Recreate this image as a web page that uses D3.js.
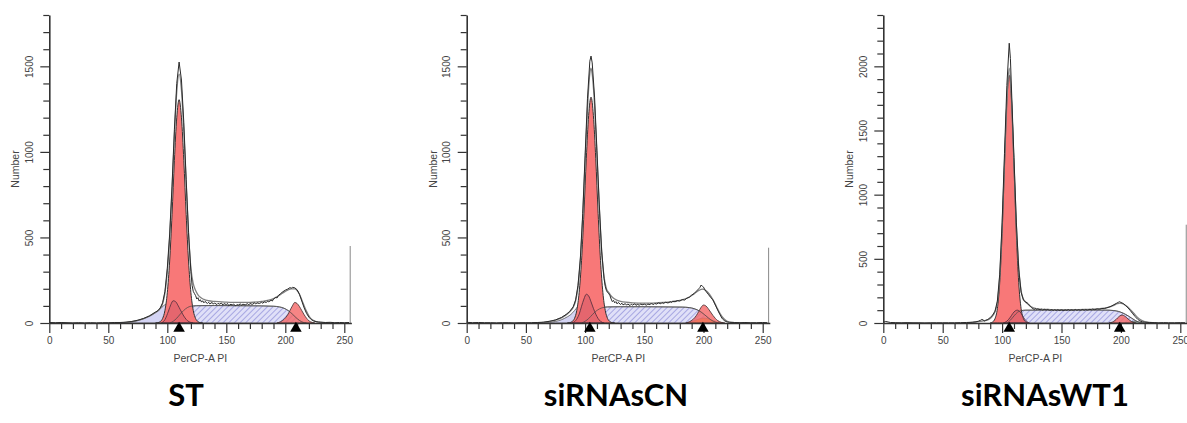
<!DOCTYPE html>
<html>
<head>
<meta charset="utf-8">
<script src="https://cdn.jsdelivr.net/npm/d3@7"></script>
<style>
  body { margin: 0; background: #fff; }
  svg { display: block; font-family: "Liberation Sans", Arial, sans-serif; }
</style>
</head>
<body>
<svg id="chart" width="1187" height="423"></svg>
<script>
// panel labels / scale maxima / marker positions
var titles = ['ST', 'siRNAsCN', 'siRNAsWT1'];
var yMaxes = [1800, 1800, 2400];
var g1Marks = [110, 104, 106];
var g2Marks = [209, 199.5, 199];
var spikeHeights = [450, 440, 766];
var xTickValues = d3.range(0, 251, 10);

// ST
var stRaw = [[0,3],[5,2],[10,3],[15,2],[20,1],[25,2],[30,1],[35,2],[40,1],[45,2],[50,2],[55,3],[60,3],[65,5],[70,9],[75,16],[80,27],[85,42],[88,55],[90,64],[92,72],[94,88],[96,118],[98,185],[100,320],[102,520],[104,800],[106,1130],[108,1400],[110,1525],[112,1420],[114,1170],[116,840],[118,530],[120,300],[121,220],[122,185],[123,172],[124,160],[125,140],[126,148],[127,128],[128,136],[129,122],[130,130],[131,118],[132,126],[134,114],[135,121],[136,112],[138,120],[139,110],[140,117],[142,108],[143,115],[144,110],[146,116],[147,105],[148,113],[150,108],[151,114],[152,102],[154,110],[155,104],[156,111],[158,100],[159,108],[160,104],[162,112],[163,103],[164,110],[166,106],[168,113],[169,105],[170,114],[172,109],[174,117],[175,111],[176,118],[178,114],[180,121],[181,115],[182,124],[184,120],[185,128],[186,124],[188,133],[189,128],[190,140],[192,150],[193,146],[194,160],[196,172],[198,183],[200,192],[202,198],[204,207],[205,203],[206,208],[208,206],[210,194],[212,168],[214,128],[216,88],[218,56],[220,34],[222,20],[224,12],[226,8],[228,6],[230,5],[234,3],[238,4],[242,2],[246,3],[250,2],[254,3]];
var stFit = [[55,1],[60,2],[65,4],[70,8],[75,15],[80,26],[85,41],[90,62],[92,70],[94,85],[96,112],[98,175],[100,300],[102,495],[104,770],[106,1090],[108,1350],[110,1455],[112,1360],[114,1120],[116,810],[118,520],[120,320],[122,230],[124,190],[126,165],[128,150],[131,138],[135,130],[140,126],[150,122],[160,120],[170,121],[180,126],[186,133],[190,142],[194,158],[198,176],[202,192],[205,200],[208,200],[210,190],[212,168],[214,135],[216,100],[218,68],[220,42],[222,24],[225,11],[228,5],[232,2],[240,1]];
var stDebris = [[60,0],[65,2],[70,6],[75,14],[80,25],[85,40],[90,60],[94,82],[97,102],[100,112],[103,104],[106,86],[110,62],[114,44],[118,33],[124,27],[135,24],[150,22],[170,20],[190,17],[200,13],[206,7],[212,0]];
var stBump = [[95,0],[98,20],[101,70],[103,108],[105,130],[107,125],[109,104],[111,78],[113,52],[115,30],[117,14],[120,3],[122,0]];
var stS = [[102,0],[105,10],[108,28],[111,52],[114,74],[117,90],[120,98],[125,101],[140,102],[160,101],[180,100],[190,98],[195,94],[199,86],[203,70],[206,52],[209,32],[212,15],[215,4],[218,0]];
var stG1 = [[90,0],[92,2],[94,8],[96,26],[98,73],[100,177],[102,362],[104,634],[106,949],[108,1199],[110,1305],[112,1199],[114,949],[116,634],[118,362],[120,177],[122,73],[124,26],[126,8],[128,2],[130,0]];
var stG2 = [[193,0],[196,8],[199,22],[202,48],[204,74],[206,100],[208,120],[210,114],[212,96],[214,72],[216,48],[218,28],[220,13],[223,3],[225,0]];

// siRNAsCN
var cnRaw = [[0,4],[5,2],[10,3],[15,2],[20,2],[25,1],[30,2],[35,2],[40,1],[45,2],[50,2],[55,2],[60,3],[65,5],[70,10],[75,18],[80,32],[84,50],[87,68],[90,95],[92,135],[94,220],[96,380],[98,640],[100,980],[102,1310],[104,1530],[105,1560],[106,1520],[108,1320],[110,1010],[112,690],[114,420],[116,260],[117,215],[118,190],[119,178],[120,172],[121,160],[122,140],[123,125],[124,132],[125,118],[126,125],[127,112],[128,120],[130,108],[131,116],[132,106],[134,113],[135,104],[136,111],[138,102],[139,110],[140,105],[142,112],[143,103],[144,109],[146,104],[147,112],[148,106],[150,110],[152,104],[153,112],[154,107],[156,113],[158,108],[159,115],[160,110],[162,117],[164,112],[165,119],[166,114],[168,121],[170,117],[172,124],[173,120],[174,127],[176,124],[178,131],[180,128],[182,137],[184,134],[186,145],[188,150],[190,163],[192,172],[194,186],[196,200],[197,208],[198,222],[199,215],[200,210],[201,196],[202,186],[204,168],[206,150],[208,135],[210,105],[212,75],[214,48],[215,35],[216,24],[218,12],[220,6],[222,4],[226,3],[230,2],[235,3],[240,2],[245,2],[250,3],[254,2]];
var cnFit = [[55,1],[60,2],[65,4],[70,9],[75,17],[80,30],[85,52],[88,72],[90,92],[92,130],[94,210],[96,365],[98,615],[100,940],[102,1250],[104,1460],[105,1490],[106,1455],[108,1270],[110,975],[112,670],[114,420],[116,270],[118,200],[120,178],[122,158],[125,140],[130,126],[140,118],[150,116],[160,118],[170,122],[178,130],[184,140],[188,152],[192,170],[196,190],[199,198],[202,190],[205,168],[208,135],[211,95],[214,55],[217,26],[220,10],[224,3],[230,1]];
var cnDebris = [[62,0],[66,2],[70,4],[75,9],[80,19],[85,36],[88,50],[91,72],[94,98],[97,120],[100,126],[103,110],[106,86],[109,64],[112,47],[116,35],[122,28],[135,24],[155,22],[175,19],[190,15],[198,10],[205,5],[212,0]];
var cnBump = [[89,0],[92,14],[95,52],[97,98],[99,140],[101,168],[103,158],[105,124],[107,86],[109,52],[111,26],[113,10],[116,0]];
var cnS = [[97,0],[100,10],[103,26],[106,48],[109,68],[112,82],[115,90],[119,94],[130,95],[150,95],[170,94],[182,93],[188,90],[192,84],[195,76],[198,64],[201,48],[204,30],[207,15],[210,5],[213,0]];
var cnG1 = [[85,0],[87,2],[89,8],[91,26],[93,74],[95,179],[97,366],[99,641],[101,960],[103,1213],[105,1320],[107,1213],[109,960],[111,641],[113,366],[115,179],[117,74],[119,26],[121,8],[123,2],[125,0]];
var cnG2 = [[185,0],[188,7],[191,20],[194,44],[196,68],[198,92],[200,105],[202,100],[204,84],[206,64],[208,44],[210,27],[212,14],[215,4],[218,0]];
var cnG2b = [[186,0],[189,5],[192,12],[195,21],[198,27],[200,29],[202,28],[205,22],[208,14],[211,6],[214,1],[216,0]];

// siRNAsWT1
var wtRaw = [[0,6],[2,12],[4,8],[6,4],[10,3],[15,2],[20,3],[25,2],[30,2],[35,1],[40,2],[45,2],[50,2],[55,2],[60,2],[65,3],[70,4],[75,6],[78,9],[80,14],[82,22],[83,28],[84,24],[85,16],[86,20],[88,28],[90,42],[92,62],[94,92],[96,170],[98,380],[100,780],[102,1320],[104,1850],[106,2180],[107,2060],[108,1800],[110,1290],[112,780],[114,420],[116,240],[118,178],[120,162],[121,158],[122,150],[123,138],[124,126],[125,118],[126,112],[127,106],[128,112],[129,104],[130,110],[132,103],[133,108],[134,101],[136,107],[137,100],[138,106],[140,99],[142,104],[143,97],[144,103],[146,98],[147,104],[148,97],[150,102],[152,96],[153,103],[154,98],[156,104],[157,97],[158,103],[160,99],[162,105],[163,98],[164,104],[166,100],[168,106],[169,99],[170,105],[172,101],[174,107],[175,102],[176,108],[178,104],[180,110],[182,107],[184,113],[186,112],[188,118],[190,124],[192,132],[194,142],[196,152],[198,162],[199,166],[200,160],[202,152],[204,136],[206,118],[208,96],[210,72],[212,50],[214,30],[216,16],[218,9],[220,6],[224,4],[228,3],[232,2],[236,3],[240,2],[245,2],[250,3],[254,2]];
var wtFit = [[70,3],[75,5],[80,10],[84,16],[88,24],[90,35],[92,55],[94,88],[96,160],[98,360],[100,740],[102,1240],[104,1720],[106,1985],[108,1720],[110,1240],[112,760],[114,430],[116,250],[118,185],[120,162],[122,145],[125,125],[128,114],[132,108],[140,105],[150,104],[160,104],[170,106],[180,110],[186,116],[190,124],[194,138],[197,150],[199,155],[202,148],[205,130],[208,104],[211,74],[214,44],[217,22],[220,10],[224,4],[230,1]];
var wtBump = [[101,0],[104,14],[107,46],[109,74],[111,94],[113,100],[115,88],[117,60],[119,30],[121,10],[123,0]];
var wtS = [[104,0],[107,22],[110,55],[113,84],[116,96],[120,100],[140,101],[160,101],[180,101],[190,100],[194,97],[198,90],[202,76],[206,56],[209,38],[212,20],[215,7],[218,0]];
var wtG1 = [[90,0],[92,8],[94,33],[96,112],[98,315],[100,697],[102,1222],[104,1728],[106,1930],[108,1728],[110,1222],[112,697],[114,315],[116,112],[118,33],[120,8],[122,0]];
var wtG2 = [[190,0],[193,8],[195,20],[197,38],[199,55],[201,62],[203,55],[205,40],[207,24],[209,11],[211,3],[213,0]];
var wtG2b = [[203,0],[206,6],[209,12],[212,13],[215,7],[218,2],[220,0]];

var panels = [
  {raw: stRaw, fit: stFit, debris: stDebris, bump: stBump, s: stS, g1: stG1, g2: stG2, g2b: null, g2bColor: null},
  {raw: cnRaw, fit: cnFit, debris: cnDebris, bump: cnBump, s: cnS, g1: cnG1, g2: cnG2, g2b: cnG2b, g2bColor: '#e3ab2c'},
  {raw: wtRaw, fit: wtFit, debris: null, bump: wtBump, s: wtS, g1: wtG1, g2: wtG2, g2b: wtG2b, g2bColor: '#bfe6dc'}
];

var originX = [49.3, 466.7, 883.3];
var pxPerUnit = [1.18, 1.184, 1.188];
var titleX = [186, 616, 1045];
var plotTop = 15, plotBottom = 323;

var svg = d3.select('#chart');

var defs = svg.append('defs');
var pat = defs.append('pattern')
  .attr('id', 'hatch')
  .attr('patternUnits', 'userSpaceOnUse')
  .attr('width', 4).attr('height', 4)
  .attr('patternTransform', 'rotate(45)');
pat.append('rect').attr('width', 4).attr('height', 4).attr('fill', '#e0e0f8');
pat.append('line').attr('x1', 0).attr('y1', 0).attr('x2', 0).attr('y2', 4)
  .attr('stroke', '#8080d4').attr('stroke-width', 1.2);

function drawPanel(i) {
  var p = panels[i];
  var h = plotBottom - plotTop;
  var x = d3.scaleLinear().domain([0, 256]).range([0, 256 * pxPerUnit[i]]);
  var y = d3.scaleLinear().domain([0, yMaxes[i]]).range([h, 0]);
  var g = svg.append('g').attr('transform', 'translate(' + originX[i] + ',' + plotTop + ')');

  var area = d3.area()
    .x(function(d) { return x(d[0]); })
    .y0(y(0))
    .y1(function(d) { return y(d[1]); })
    .curve(d3.curveMonotoneX);
  var smooth = d3.line()
    .x(function(d) { return x(d[0]); })
    .y(function(d) { return y(d[1]); })
    .curve(d3.curveMonotoneX);
  var jagged = d3.line()
    .x(function(d) { return x(d[0]); })
    .y(function(d) { return y(d[1]); });

  if (p.debris) {
    g.append('path').datum(p.debris).attr('d', area)
      .attr('fill', '#d4d4f4').attr('stroke', '#555').attr('stroke-width', 0.8);
  }
  g.append('path').datum(p.s).attr('d', area)
    .attr('fill', 'url(#hatch)').attr('stroke', '#666').attr('stroke-width', 0.8);
  if (p.g2b) {
    g.append('path').datum(p.g2b).attr('d', area)
      .attr('fill', p.g2bColor).attr('stroke', '#555').attr('stroke-width', 0.7);
  }
  g.append('path').datum(p.g2).attr('d', area)
    .attr('fill', '#f46a6a').attr('fill-opacity', 0.82)
    .attr('stroke', '#3a2a2a').attr('stroke-width', 0.8);
  g.append('path').datum(p.g1).attr('d', area)
    .attr('fill', '#f87878').attr('stroke', '#333').attr('stroke-width', 1);
  // small shoulder component sits over the G1 peak, semi transparent
  g.append('path').datum(p.bump).attr('d', area)
    .attr('fill', '#b8405a').attr('fill-opacity', 0.3)
    .attr('stroke', '#4a2a3a').attr('stroke-width', 0.8);
  g.append('path').datum(p.s).attr('d', smooth)
    .attr('fill', 'none').attr('stroke', '#444').attr('stroke-width', 0.7);

  g.append('path').datum(p.fit).attr('d', smooth)
    .attr('fill', 'none').attr('stroke', '#808080').attr('stroke-width', 1.3);
  g.append('path').datum(p.raw).attr('d', jagged)
    .attr('fill', 'none').attr('stroke', '#2a2a2a').attr('stroke-width', 1);

  // last-channel spike
  g.append('line')
    .attr('x1', x(255)).attr('x2', x(255))
    .attr('y1', y(0)).attr('y2', y(spikeHeights[i]))
    .attr('stroke', '#888').attr('stroke-width', 1);

  // axes
  var xAxis = d3.axisBottom(x)
    .tickValues(xTickValues)
    .tickSizeOuter(0)
    .tickFormat(function(d) { return d % 50 === 0 ? d : ''; });
  var xg = g.append('g').attr('transform', 'translate(0,' + y(0) + ')').call(xAxis);
  xg.select('.domain').attr('stroke', '#333').attr('stroke-width', 1.6);
  xg.selectAll('.tick line')
    .attr('stroke', '#333').attr('stroke-width', 1.2)
    .attr('y2', function(d) { return d % 50 === 0 ? 10 : 6; });
  xg.selectAll('.tick text')
    .attr('y', 14).attr('font-size', 10).attr('fill', '#444')
    .attr('font-family', '"Liberation Sans", Arial, sans-serif');

  var yAxis = d3.axisLeft(y)
    .tickValues(d3.range(0, yMaxes[i] + 1, 100))
    .tickSizeOuter(0)
    .tickFormat(function(d) { return d % 500 === 0 ? d : ''; });
  var yg = g.append('g').call(yAxis);
  yg.select('.domain').attr('stroke', '#333').attr('stroke-width', 1.6);
  yg.selectAll('.tick line')
    .attr('stroke', '#333').attr('stroke-width', 1.2)
    .attr('x2', function(d) { return d % 500 === 0 ? -9 : -6; });
  yg.selectAll('.tick text')
    .attr('x', null).attr('dy', null)
    .attr('text-anchor', 'middle')
    .attr('dominant-baseline', 'central')
    .attr('transform', 'translate(-20,0) rotate(-90)')
    .attr('font-size', 10).attr('fill', '#444')
    .attr('font-family', '"Liberation Sans", Arial, sans-serif');

  // G1 / G2 markers
  var tri = d3.symbol().type(d3.symbolTriangle).size(58);
  [g1Marks[i], g2Marks[i]].forEach(function(m) {
    g.append('path').attr('d', tri)
      .attr('transform', 'translate(' + x(m) + ',' + (y(0) + 5.5) + ')')
      .attr('fill', '#000');
  });

  g.append('text')
    .attr('x', x(128)).attr('y', 347)
    .attr('text-anchor', 'middle')
    .attr('font-size', 10.5).attr('fill', '#444')
    .text('PerCP-A PI');

  g.append('text')
    .attr('transform', 'translate(-34,' + (h / 2) + ') rotate(-90)')
    .attr('text-anchor', 'middle')
    .attr('dominant-baseline', 'central')
    .attr('font-size', 10.5).attr('fill', '#444')
    .text('Number');

  svg.append('text')
    .attr('x', titleX[i]).attr('y', 406)
    .attr('text-anchor', 'middle')
    .attr('font-family', 'Lato, "Open Sans", sans-serif')
    .attr('font-weight', 700)
    .attr('font-size', 31)
    .attr('fill', '#000')
    .text(titles[i]);
}

for (var i = 0; i < panels.length; i++) drawPanel(i);
</script>
</body>
</html>
